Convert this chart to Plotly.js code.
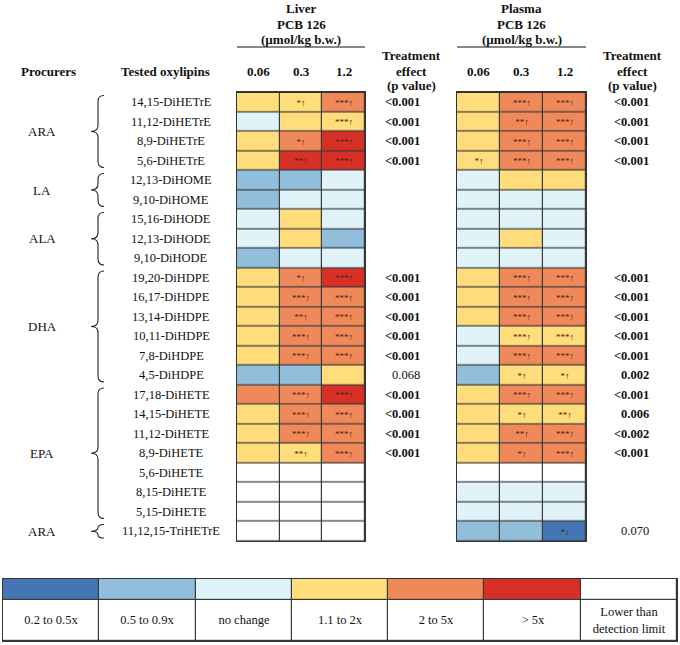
<!DOCTYPE html>
<html><head><meta charset="utf-8">
<script src="https://cdn.plot.ly/plotly-3.0.1.min.js"></script>
<style>html,body{margin:0;padding:0;background:#fff}#chart{width:680px;height:645px}</style>
</head><body><div id="chart"></div>
<script>
// ---------------- DATA ----------------
const oxylipins = ['14,15-DiHETrE','11,12-DiHETrE','8,9-DiHETrE','5,6-DiHETrE',
  '12,13-DiHOME','9,10-DiHOME',
  '15,16-DiHODE','12,13-DiHODE','9,10-DiHODE',
  '19,20-DiHDPE','16,17-DiHDPE','13,14-DiHDPE','10,11-DiHDPE','7,8-DiHDPE','4,5-DiHDPE',
  '17,18-DiHETE','14,15-DiHETE','11,12-DiHETE','8,9-DiHETE','5,6-DiHETE','8,15-DiHETE','5,15-DiHETE',
  '11,12,15-TriHETrE'];
const procurers = ['ARA','LA','ALA','DHA','EPA','ARA'];
const procurerCounts = [4,2,3,6,7,1];
const doses = ['0.06','0.3','1.2'];
// fold-change class: 0 = 0.2-0.5x, 1 = 0.5-0.9x, 2 = no change, 3 = 1.1-2x, 4 = 2-5x, 5 = >5x, 6 = below detection limit
const liverClass = [[3,3,4],[2,3,3],[3,4,5],[3,5,5],
  [1,1,2],[1,2,2],
  [2,3,2],[2,3,1],[1,2,2],
  [3,4,5],[3,4,4],[3,4,4],[3,4,4],[3,4,4],[1,1,3],
  [4,4,5],[3,4,4],[3,4,4],[3,3,4],[6,6,6],[6,6,6],[6,6,6],
  [6,6,6]];
const liverSig = [['','*↑','***↑'],['','','***↑'],['','*↑','***↑'],['','**↑','***↑'],
  ['','',''],['','',''],
  ['','',''],['','',''],['','',''],
  ['','*↑','***↑'],['','***↑','***↑'],['','**↑','***↑'],['','***↑','***↑'],['','***↑','***↑'],['','',''],
  ['','***↑','***↑'],['','***↑','***↑'],['','***↑','***↑'],['','**↑','***↑'],['','',''],['','',''],['','',''],
  ['','','']];
const liverP = ['<0.001','<0.001','<0.001','<0.001','','','','','',
  '<0.001','<0.001','<0.001','<0.001','<0.001','0.068',
  '<0.001','<0.001','<0.001','<0.001','','','',''];
const plasmaClass = [[3,4,4],[3,4,4],[3,4,4],[3,4,4],
  [2,3,3],[2,2,2],
  [2,2,2],[2,3,2],[2,2,2],
  [3,4,4],[3,4,4],[3,4,4],[2,3,3],[2,4,4],[1,3,3],
  [3,4,4],[3,3,3],[3,4,4],[3,4,4],[6,6,6],[2,2,2],[2,2,2],
  [1,1,0]];
const plasmaSig = [['','***↑','***↑'],['','**↑','***↑'],['','***↑','***↑'],['*↑','***↑','***↑'],
  ['','',''],['','',''],
  ['','',''],['','',''],['','',''],
  ['','***↑','***↑'],['','***↑','***↑'],['','***↑','***↑'],['','***↑','***↑'],['','***↑','***↑'],['','*↑','*↑'],
  ['','***↑','***↑'],['','*↑','**↑'],['','**↑','***↑'],['','*↑','***↑'],['','',''],['','',''],['','',''],
  ['','','*↓']];
const plasmaP = ['<0.001','<0.001','<0.001','<0.001','','','','','',
  '<0.001','<0.001','<0.001','<0.001','<0.001','0.002',
  '<0.001','0.006','<0.002','<0.001','','','',
  '0.070'];
const legendClasses = [0,1,2,3,4,5,6];
const legendLabels = ['0.2 to 0.5x','0.5 to 0.9x','no change','1.1 to 2x','2 to 5x','> 5x','Lower than<br>detection limit'];

// ---------------- STYLE / GEOMETRY ----------------
const classColors = ['#4575b4','#91bfdb','#e0f3f8','#fedd7a','#f0895a','#d73027','#ffffff'];
const W = 680, H = 645;
const FONT = 'Liberation Serif, Times New Roman, serif';
const gridTop = 92.5, gridBot = 541;
const liverX = [237, 365], plasmaX = [457, 586];
const legX = [3, 677], legY = [579, 641];
const px = v => v / W;
const py = v => 1 - v / H;

const colorscale = [];
classColors.forEach((c, i) => { colorscale.push([i / 7, c]); colorscale.push([(i + 1) / 7, c]); });

function heat(z, text, xa, ya) {
  return {
    type: 'heatmap', z: z, x: doses, y: oxylipins, text: text,
    texttemplate: '%{text}', textfont: {family: FONT, size: 9, color: '#4a200a'},
    colorscale: colorscale, zmin: -0.5, zmax: 6.5, showscale: false,
    xgap: 1.2, ygap: 1.2, hoverinfo: 'skip', xaxis: xa, yaxis: ya
  };
}

const traces = [
  heat(liverClass, liverSig, 'x', 'y'),
  heat(plasmaClass, plasmaSig, 'x2', 'y2'),
  {
    type: 'heatmap',
    z: [legendClasses, legendClasses.map(() => 6)],
    x: legendClasses, y: [0, 1, 3],
    text: [legendClasses.map(() => ''), legendLabels],
    texttemplate: '%{text}', textfont: {family: FONT, size: 12.5, color: '#111'},
    colorscale: colorscale, zmin: -0.5, zmax: 6.5, showscale: false,
    xgap: 1.2, ygap: 1.2, hoverinfo: 'skip', xaxis: 'x3', yaxis: 'y3'
  }
];

const axBase = {showticklabels: false, ticks: '', showgrid: false, zeroline: false,
  showline: true, mirror: true, linecolor: '#333', linewidth: 1.2, fixedrange: true};
const gridDom = [py(gridBot), py(gridTop)];
const n = oxylipins.length;

const layout = {
  width: W, height: H, margin: {l: 0, r: 0, t: 0, b: 0},
  paper_bgcolor: '#fff', plot_bgcolor: '#3a3a3a', showlegend: false,
  font: {family: FONT, color: '#111'},
  xaxis: Object.assign({}, axBase, {type: 'category', domain: [px(liverX[0]), px(liverX[1])], anchor: 'y', range: [-0.5, 2.5]}),
  yaxis: Object.assign({}, axBase, {type: 'category', domain: gridDom, anchor: 'x', range: [n - 0.5, -0.5]}),
  xaxis2: Object.assign({}, axBase, {type: 'category', domain: [px(plasmaX[0]), px(plasmaX[1])], anchor: 'y2', range: [-0.5, 2.5]}),
  yaxis2: Object.assign({}, axBase, {type: 'category', domain: gridDom, anchor: 'x2', range: [n - 0.5, -0.5]}),
  xaxis3: Object.assign({}, axBase, {domain: [px(legX[0]), px(legX[1])], anchor: 'y3', range: [-0.5, 6.5]}),
  yaxis3: Object.assign({}, axBase, {domain: [py(legY[1]), py(legY[0])], anchor: 'x3', range: [3, 0]}),
  annotations: [], shapes: []
};

const A = layout.annotations;
function pText(text, x, y, opts) {
  A.push(Object.assign({text: text, xref: 'paper', yref: 'paper', x: px(x), y: py(y),
    xanchor: 'center', yanchor: 'middle', showarrow: false,
    font: {family: FONT, size: 13, color: '#111'}}, opts || {}));
}

// Column headers
[['Liver', liverX], ['Plasma', plasmaX]].forEach(([name, xr]) => {
  const cx = (xr[0] + xr[1]) / 2;
  pText('<b>' + name + '</b>', cx, 8);
  pText('<b>PCB 126</b>', cx, 24);
  pText('<b>(µmol/kg b.w.)</b>', cx, 39);
  layout.shapes.push({type: 'line', xref: 'paper', yref: 'paper', x0: px(xr[0]), x1: px(xr[1]),
    y0: py(47), y1: py(47), line: {color: '#111', width: 1.2}});
});
doses.forEach((d, i) => {
  A.push({text: '<b>' + d + '</b>', xref: 'x', yref: 'paper', x: i, y: py(71), showarrow: false,
    xanchor: 'center', yanchor: 'middle', font: {family: FONT, size: 13, color: '#111'}});
  A.push({text: '<b>' + d + '</b>', xref: 'x2', yref: 'paper', x: i, y: py(71), showarrow: false,
    xanchor: 'center', yanchor: 'middle', font: {family: FONT, size: 13, color: '#111'}});
});
[412, 632].forEach(cx => {
  pText('<b>Treatment</b>', cx, 55);
  pText('<b>effect</b>', cx, 71);
  pText('<b>(p value)</b>', cx, 86);
});
pText('<b>Procurers</b>', 48, 71);
pText('<b>Tested oxylipins</b>', 165, 71);

// Oxylipin labels
oxylipins.forEach((o, i) => {
  A.push({text: o, xref: 'paper', yref: 'y', x: px(171), y: o, showarrow: false,
    xanchor: 'center', yanchor: 'middle', font: {family: FONT, size: 12.5, color: '#111'}});
});

// p values
function isSig(p) { return p.startsWith('<') || parseFloat(p) < 0.05; }
[[liverP, 'y', 422], [plasmaP, 'y2', 651]].forEach(([arr, yr, xr]) => {
  arr.forEach((p, i) => {
    if (!p) return;
    A.push({text: isSig(p) ? '<b>' + p.replace('<', '&lt;') + '</b>' : p, xref: 'paper', yref: yr,
      x: px(xr), y: oxylipins[i], showarrow: false, xanchor: 'right', yanchor: 'middle',
      font: {family: FONT, size: 12.5, color: '#111'}});
  });
});

// Procurer labels and braces
const rowH = (gridBot - gridTop) / n;
let start = 0;
procurers.forEach((p, gi) => {
  const cnt = procurerCounts[gi];
  const y0 = gridTop + start * rowH + 3, y1 = gridTop + (start + cnt) * rowH - 3;
  const ym = (y0 + y1) / 2;
  A.push({text: p, xref: 'paper', yref: 'y', x: px(42), y: start + (cnt - 1) / 2, showarrow: false,
    xanchor: 'center', yanchor: 'middle', font: {family: FONT, size: 13, color: '#111'}});
  const xe = 104, xs = 98, xt = 91;
  const r = Math.min(6, (y1 - y0) / 4);
  const P = (x, y) => px(x).toFixed(5) + ',' + py(y).toFixed(5);
  const path = 'M' + P(xe, y0) + ' Q' + P(xs, y0) + ' ' + P(xs, y0 + r) +
    ' L' + P(xs, ym - r) + ' Q' + P(xs, ym) + ' ' + P(xt, ym) +
    ' Q' + P(xs, ym) + ' ' + P(xs, ym + r) + ' L' + P(xs, y1 - r) +
    ' Q' + P(xs, y1) + ' ' + P(xe, y1);
  layout.shapes.push({type: 'path', xref: 'paper', yref: 'paper', path: path,
    line: {color: '#222', width: 1.1}});
  start += cnt;
});

Plotly.newPlot('chart', traces, layout, {staticPlot: true, displayModeBar: false});
</script>
</body></html>
